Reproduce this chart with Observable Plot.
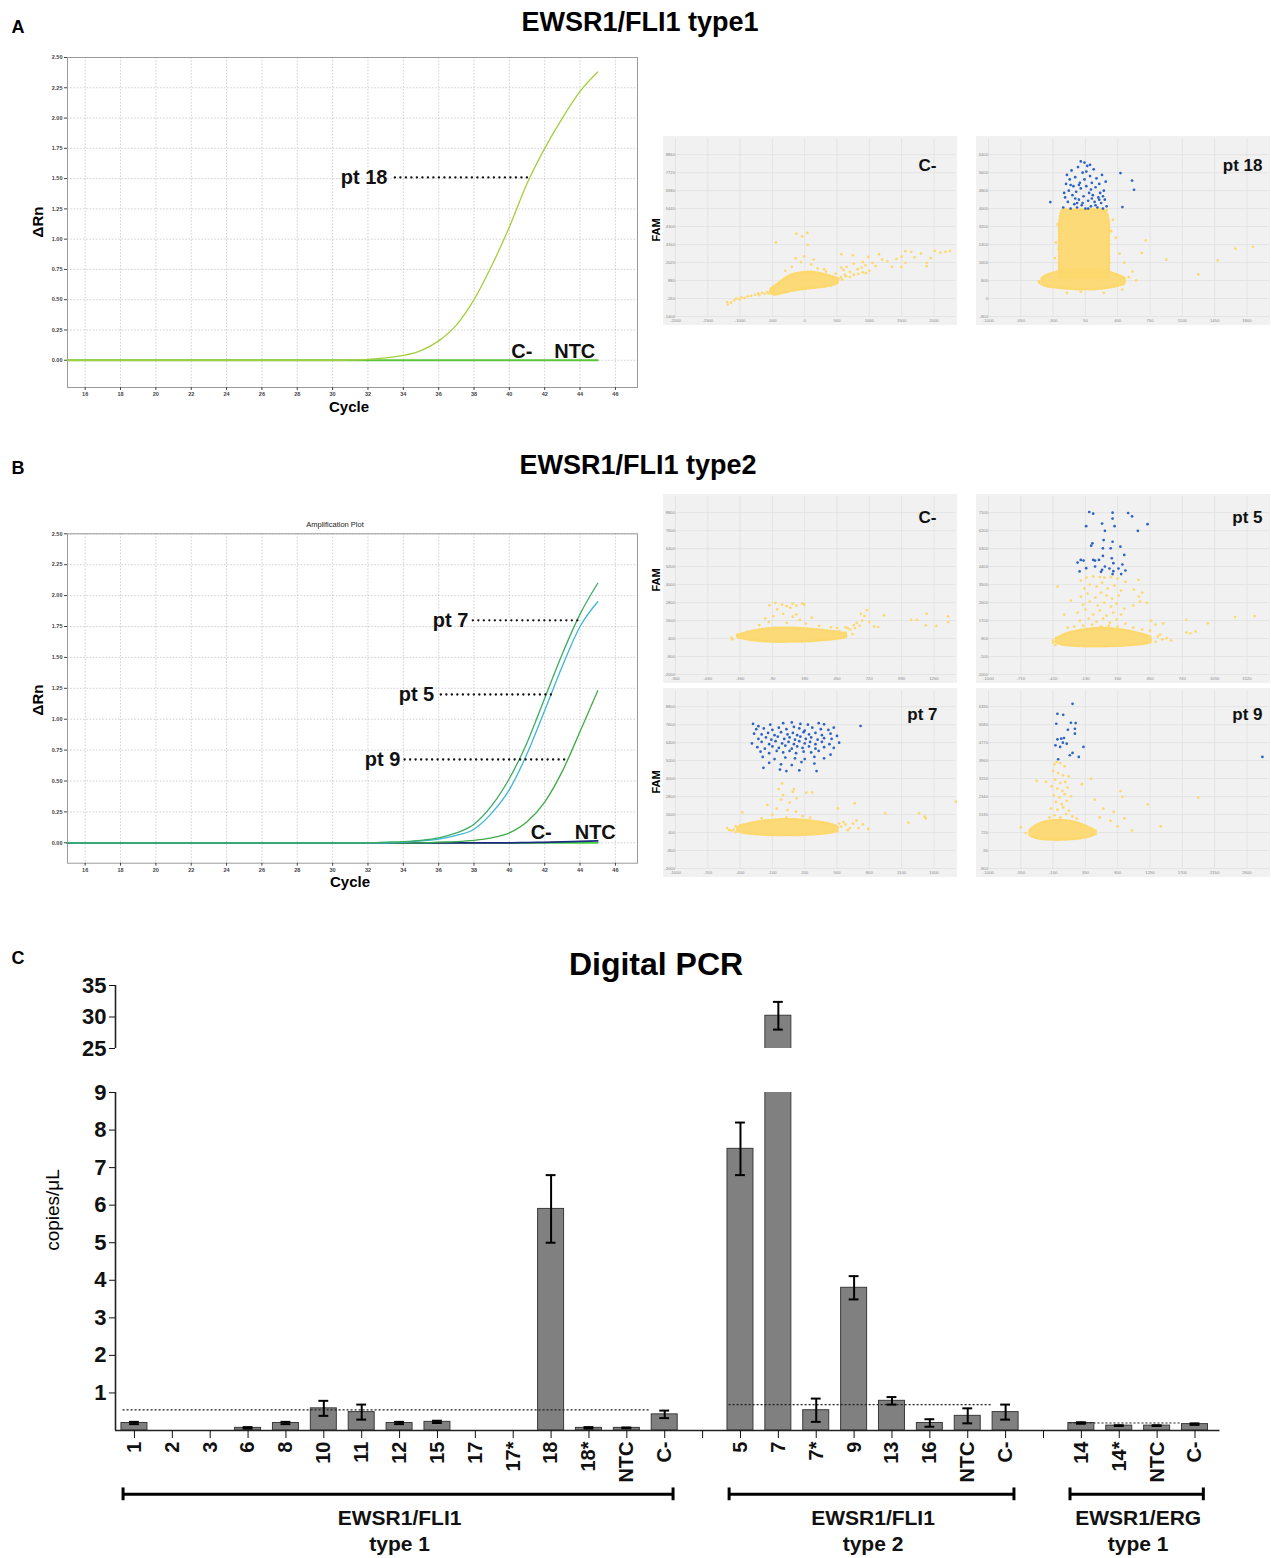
<!DOCTYPE html>
<html><head><meta charset="utf-8">
<script src="https://cdn.jsdelivr.net/npm/d3@7"></script>
<script src="https://cdn.jsdelivr.net/npm/@observablehq/plot@0.6"></script>
<style>
html,body{margin:0;padding:0;background:#fff;}
#page{position:relative;width:1271px;height:1558px;overflow:hidden;font-family:"Liberation Sans",Arial,sans-serif;color:#000;background:#fff;}
.t{position:absolute;white-space:pre;line-height:1;}
</style></head><body><div id="page"></div>
<script>
// ---------------- DATA ----------------
// Amplification plots
const ampCycleTicks = [16,18,20,22,24,26,28,30,32,34,36,38,40,42,44,46];
const ampRnTicks = [0,0.25,0.5,0.75,1.0,1.25,1.5,1.75,2.0,2.25,2.5];
const baseCycles = [15,45];
const baseRn = [0,0];
const pt18Cycle = [15,30,31,32,33,34,35,36,37,38,39,40,41,42,43,44,45];
const pt18Rn    = [0,0,0.002,0.008,0.02,0.04,0.08,0.16,0.29,0.5,0.78,1.1,1.46,1.75,2.0,2.22,2.38];
const pt7Cycle = [15,32,33,34,35,36,37,38,39,40,41,42,43,44,45];
const pt7Rn    = [0,0,0.005,0.01,0.02,0.04,0.08,0.15,0.3,0.52,0.81,1.17,1.53,1.85,2.1];
const pt5Cycle = [15,33,34,35,36,37,38,39,40,41,42,43,44,45];
const pt5Rn    = [0,0,0.005,0.015,0.03,0.06,0.11,0.24,0.43,0.72,1.07,1.43,1.75,1.95];
const pt9Cycle = [15,35,36,37,38,39,40,41,42,43,44,45];
const pt9Rn    = [0,0,0.005,0.01,0.02,0.04,0.08,0.17,0.33,0.58,0.9,1.23];
const negCycle = [15,40,41,42,43,44,45];
const negRn    = [0,0,0.002,0.004,0.007,0.011,0.015];
// annotations [text, cycle, Rn]
const ampALabels = [["pt 18",33.1,1.51]];
const ampAGuides = [[33.55,41.07,1.51]];
const ampAControls = [["C-",40.7,0.07],["NTC",43.7,0.07]];
const ampBLabels = [["pt 7",37.68,1.80],["pt 5",35.75,1.20],["pt 9",33.83,0.674]];
const ampBGuides = [[37.96,43.9,1.80],[36.15,42.6,1.20],[34.1,43.33,0.674]];
const ampBControls = [["C-",41.8,0.08],["NTC",44.86,0.08]];

// Droplet scatter plots: ticks, dense cores [x, low, high], single droplets [x, y]
const sAcX = [-2000,-1500,-1000,-500,0,500,1000,1500,2000];
const sAcY = [-1400,-260,880,2020,3160,4300,5440,6580,7720,8860];
const sAcCore = [[-520,80,330],[-470,-40,480],[-380,20,750],[-280,120,1050],[-180,210,1250],[-60,290,1360],[80,360,1400],[220,420,1340],[360,500,1200],[460,600,1080],[520,720,950]];
const sAcYellow = [[-1200,-480],[-1190,-640],[-1140,-520],[-1090,-380],[-1060,-260],[-1010,-300],[-980,-180],[-930,-230],[-880,-120],[-830,-90],[-770,-20],[-720,60],[-700,-40],[-660,100],[-620,40],[-580,150],[-560,60],[-530,200],[-510,120],[-490,260],
 [-445,3300],[-130,3860],[-40,3680],[40,3900],[45,3150],[-10,2420],[-140,2290],[140,2210],[-60,2050],[100,1900],[-200,1750],[200,1650],[300,1600],[-300,1500],[330,1450],
 [450,1050],[480,1320],[520,1000],[560,1100],[580,950],[600,1550],[620,1250],[640,1150],[650,1740],[700,1420],[700,1100],[760,1250],[760,1950],[820,1600],[830,1300],[880,1700],[900,1400],[900,2050],[940,1850],[950,1350],[987,2380],[1000,1500],[1050,2000],[1100,1800],[1150,2550],[1200,2200],[1280,2100],[1350,1750],[1420,2250],[1500,1745],[1500,2400],[1560,2000],[1560,2740],[1650,2700],[1700,2350],[1800,2600],[1890,2000],[1890,1790],[1950,2300],[2010,2760],[2100,2650],[2180,2700],[2250,2760],[566,2550],[746,2480],[566,1700]];
const sAcBlue = [];

const sAptX = [-1000,-650,-300,50,400,750,1100,1450,1800];
const sAptY = [-800,0,800,1600,2400,3200,4000,4800,5600,6400];
const sAptCore = [[-420,620,880],[-350,520,1050],[-200,440,1220],[-100,410,1270],[0,390,1300],[100,390,1300],[200,410,1270],[300,460,1180],[400,540,1040],[480,640,900]];
const sAptColumn = [[-230,900,3200],[-210,900,3800],[-150,900,3950],[0,900,3930],[150,900,3960],[270,900,3870],[310,900,3300]];
const sAptYellow = [[704,2590],[662,2030],[928,1730],[1485,1700],[1675,2220],[1865,2300],[1274,1070],[450,400],[-456,780],[520,950],[560,1200],[470,1600],[420,2000],[380,2700],[350,3500],[330,3000],[-250,3300],[-270,2500],[-280,1800],[430,800],[600,800],[-450,700],[-400,900],[-350,550],[250,250],[0,300],[-150,250],
 [-230,1500],[-240,2200],[-220,2900],[-210,3600],[310,1600],[300,2300],[320,3000],[290,3700],[-200,3950],[280,3950],[0,3980],[150,3950],[-100,3960]];
const sAptBlue = [[-190,4050],[-170,4500],[-160,5100],[-150,5500],[-140,4300],[-130,4800],[-120,5300],[-110,4000],[-100,5700],[-90,4600],[-80,5000],[-70,4200],[-60,5400],[-50,4750],[-40,4050],[-30,5850],[-20,4400],[-10,5150],[0,4900],[10,4150],[20,5600],[30,4550],[40,5300],[50,4000],[60,5000],[70,5900],[80,4350],[90,4700],[100,5450],[110,4100],[120,5150],[130,4600],[140,5750],[150,4300],[160,4950],[170,5350],[180,4050],[190,4500],[200,5100],[210,4700],[220,4250],[230,5500],[240,4000],[250,4800],[260,4400],[270,5200],[280,4100],[-180,4700],[-60,4450],[20,4250],[110,4850],[200,4400],[-20,5050],[60,5650],[-110,5050],[160,4150],[80,4000],[-40,4250],[240,4550],[120,4450],[0,6100],[40,6050],[100,5950],[-330,4290],[430,5580],[556,5250],[577,4840],[451,4070]];

const sBcX = [-900,-630,-360,-90,180,450,720,990,1260];
const sBcY = [-2000,-800,400,1600,2800,4000,5200,6400,7600,8800];
const sBcCore = [[-380,440,620],[-330,380,720],[-280,290,830],[-200,220,960],[-100,170,1060],[0,160,1090],[100,170,1080],[200,190,1030],[300,240,960],[400,310,870],[480,390,780],[530,480,680]];
const sBcYellow = [[-430,450],[-425,350],[-360,520],[-350,700],[-300,850],
 [-115,2620],[-65,2780],[-10,2670],[30,2560],[80,2720],[110,2600],[160,2740],[175,2670],[-50,2340],[60,2450],[110,2010],[0,2050],[80,1860],[240,1790],[140,1640],[-80,1900],[-150,1750],[30,1450],[190,1400],[-120,1500],[300,1250],[-200,1300],
 [520,800],[560,1000],[600,1100],[615,1450],[640,1240],[660,1600],[680,1900],[700,2300],[650,2050],[720,1500],[760,1200],[843,1950],[794,1170],[1070,1640],[1118,1640],[1200,2050],[1193,1280],[1281,1240],[1379,1880],[1379,1500],[520,1150],[580,700],[450,1100],[400,1150],[540,1100],[590,1300],[470,900]];
const sBcBlue = [];

const sB5X = [-1000,-710,-420,-130,160,450,740,1030,1320];
const sB5Y = [-1000,-100,800,1700,2600,3500,4400,5300,6200,7100];
const sB5Core = [[-390,580,800],[-350,500,900],[-300,450,1030],[-200,410,1170],[-100,390,1260],[0,390,1310],[100,400,1290],[200,420,1220],[300,460,1120],[400,520,980],[460,600,860]];
const sB5Yellow = [[-170,3700],[-120,3850],[-60,3900],[0,3880],[40,3850],[100,3870],[160,3800],[230,3640],[-140,3300],[-90,3500],[-30,3400],[20,3600],[70,3300],[130,3450],[190,3200],[-170,2900],[-110,3050],[-40,2850],[10,3100],[60,2950],[110,2800],[170,2950],[-150,2500],[-90,2650],[-20,2450],[40,2600],[100,2400],[150,2550],[220,2300],[-200,2100],[-130,2250],[-60,2000],[0,2200],[60,1950],[120,2100],[190,2000],[-180,1700],[-100,1800],[-30,1650],[30,1800],[90,1600],[150,1750],[230,1550],[-230,1400],[-150,1450],[-70,1500],[10,1400],[80,1450],[160,1400],[300,1350],[-290,1350],[350,2900],[300,2450],[360,2650],[-260,2700],
 [568,1560],[777,1730],[969,1560],[777,1100],[812,1060],[860,1150],[1214,1875],[1388,1925],[348,3740],[306,3250],[380,3100],[420,2600],[460,1700],[500,1500],[-380,3400],[-320,2000],[-420,600],
 [520,900],[560,760],[600,820],[640,700],[500,640],[540,1000],[-420,700],[-400,480],[450,1200],[380,1250]];
const sB5Blue = [[-95,7135],[-60,7052],[114,7102],[254,7085],[289,6920],[20,6556],[114,6804],[-123,6424],[45,6192],[132,6424],[341,6192],[428,6523],[-67,5564],[-78,5448],[34,5729],[114,5646],[184,5398],[27,5315],[97,5315],[219,4985],[-200,4604],[-172,4737],[-147,4703],[-60,4737],[-43,4703],[-8,4737],[27,4935],[107,4819],[121,4571],[202,4505],[-182,4158],[-123,4323],[-43,4406],[10,4141],[45,4406],[86,4307],[121,4174],[167,4307],[191,4025],[229,4207],[20,4240],[114,4025]];

const sB7X = [-1000,-700,-400,-100,200,500,800,1100,1400];
const sB7Y = [-2000,-800,400,1600,2800,4000,5200,6400,7600,8800];
const sB7Core = [[-420,480,700],[-380,380,850],[-300,290,1000],[-200,240,1130],[-100,210,1200],[0,200,1250],[100,200,1250],[200,220,1200],[300,260,1120],[400,320,1010],[470,400,880],[510,480,760]];
const sB7Yellow = [[-520,700],[-480,520],[-440,430],[-400,880],[-380,1750],[700,700],[740,950],[790,640],[650,1000],[680,1200],[560,1100],[947,1680],[1163,1060],[1261,1680],[1315,1460],[1325,1350],[1604,2460],[665,2350],[510,2020],[-10,3680],[90,3130],[125,2690],[215,3060],[270,3080],[-147,2240],[0,2900],[60,2400],[-60,2000],[-20,2600],[40,1900],[120,1800],[-100,1600],[180,1500],[30,1400],[-200,1350],[250,1400],[100,3300],[-40,3300],
 [540,800],[580,950],[620,700],[600,560],[520,1000],[-460,600],[-500,560],[-440,820]];
const sB7Blue = [[-280,7650],[-230,7500],[-120,7600],[0,7700],[80,7750],[160,7650],[230,7600],[330,7700],[380,7620],
 [-250,7300],[-180,7350],[-100,7250],[-40,7400],[30,7300],[100,7450],[150,7350],[200,7200],[270,7400],[350,7300],[420,7250],[470,7400],
 [-270,7000],[-200,6950],[-140,7050],[-80,6900],[-20,7100],[40,6950],[90,7050],[130,6900],[190,7100],[240,6950],[300,7050],[360,6900],[440,7000],[500,6850],
 [-230,6650],[-160,6750],[-110,6600],[-50,6800],[10,6650],[60,6750],[110,6600],[160,6800],[210,6650],[260,6750],[320,6600],[380,6700],[450,6650],
 [-290,6350],[-200,6450],[-130,6300],[-70,6500],[-10,6350],[50,6450],[100,6300],[150,6500],[200,6350],[250,6450],[300,6300],[360,6450],[430,6300],[520,6400],
 [-240,6100],[-170,6000],[-100,6150],[-40,6050],[20,6200],[80,6000],[130,6150],[180,6050],[240,6150],[300,6000],[380,6100],[470,6050],
 [-210,5800],[-130,5700],[-60,5850],[0,5750],[60,5850],[120,5700],[190,5800],[260,5750],[330,5850],[440,5600],
 [-190,5450],[-80,5300],[20,5400],[110,5350],[200,5300],[290,5450],[380,5350],
 [-130,5050],[-20,4950],[80,4900],[170,5100],[290,5000],
 [-183,4720],[-30,4600],[30,4500],[150,4550],[310,4500],[719,7510]];

const sB9X = [-1000,-550,-100,350,800,1250,1700,2150,2600];
const sB9Y = [-900,-90,720,1530,2340,3150,3960,4770,5580,6390];
const sB9Core = [[-420,600,800],[-400,540,870],[-320,450,1050],[-220,400,1180],[-100,380,1250],[0,380,1260],[100,390,1240],[200,410,1180],[300,450,1080],[400,520,940],[470,590,830],[500,640,780]];
const sB9Yellow = [[-80,3800],[-50,3900],[0,3850],[60,3700],[-100,3500],[-30,3400],[40,3300],[120,3250],[-70,3100],[0,2950],[70,3000],[-120,2800],[-40,2700],[30,2600],[100,2750],[-90,2400],[-10,2300],[60,2450],[150,2350],[-60,2100],[20,2000],[90,2150],[-130,1800],[-40,1750],[40,1850],[120,1700],[-80,1500],[0,1400],[80,1550],[170,1450],[-150,1400],[230,1350],[-200,3000],
 [892,1360],[746,1650],[1000,810],[838,2590],[865,2330],[1217,1990],[1922,2290],[300,2900],[430,3150],[480,2200],[600,1800],[700,1250],[800,1000],[550,1400],[1400,1000],[-480,700],[-550,950],[-330,3050]];
const sB9Blue = [[171,6517],[-40,6069],[41,6024],[-56,5620],[149,5665],[214,5650],[106,5351],[204,5396],[204,5172],[-40,4918],[14,4948],[52,4978],[90,4724],[-67,4649],[-2,4575],[36,4769],[-29,4022],[133,4201],[171,4306],[258,4126],[323,4575],[2816,4126]];

// Digital PCR
const g1Samples = ["1","2","3","6","8","10","11","12","15","17","17*","18","18*","NTC","C-"];
const g1Copies  = [0.20,0,0,0.07,0.20,0.59,0.49,0.20,0.23,0,0,5.90,0.07,0.07,0.43];
const g1Err     = [0.03,0,0,0.02,0.03,0.20,0.20,0.03,0.03,0,0,0.90,0.02,0.01,0.10];
const g2Samples = ["5","7","7*","9","13","16","NTC","C-"];
const g2Copies  = [7.50,30.2,0.54,3.80,0.79,0.20,0.39,0.49];
const g2Err     = [0.70,2.2,0.31,0.31,0.10,0.10,0.20,0.20];
const g3Samples = ["14","14*","NTC","C-"];
const g3Copies  = [0.20,0.13,0.13,0.17];
const g3Err     = [0.02,0.01,0.01,0.02];
const groupNames = ["EWSR1/FLI1\ntype 1","EWSR1/FLI1\ntype 2","EWSR1/ERG\ntype 1"];
const groupCutoffs = [0.55,0.69,0.20];
const lowTicks = [1,2,3,4,5,6,7,8,9];
const highTicks = [25,30,35];

// ---------------- DRAWING ----------------
const FONT = '"Liberation Sans", Arial, sans-serif';
const page = document.getElementById("page");
function place(node, left, top){ node.style.position="absolute"; node.style.left=left+"px"; node.style.top=top+"px"; page.appendChild(node); return node; }
function txtC(s, cx, cy, css, rot){ const d=document.createElement("div"); d.className="t"; d.textContent=s; d.style.cssText += css;
  d.style.transform = "translate(-50%,-50%)" + (rot ? " rotate("+rot+"deg)" : ""); return place(d, cx, cy); }

// Panel letters and titles
txtC("A", 18, 27, "font-weight:bold;font-size:18px;");
txtC("B", 18, 468, "font-weight:bold;font-size:18px;");
txtC("C", 18, 958, "font-weight:bold;font-size:18px;");
txtC("EWSR1/FLI1 type1", 640, 22, "font-weight:bold;font-size:27px;");
txtC("EWSR1/FLI1 type2", 638, 465, "font-weight:bold;font-size:27px;");
txtC("Digital PCR", 656, 964, "font-weight:bold;font-size:32px;");

// Amplification plots
function amp(o){
  const grid = {stroke:"#c6c6c6", strokeWidth:0.8, strokeDasharray:"1.6,1.6"};
  return Plot.plot({
    width:650, height:o.h, marginLeft:67, marginRight:13, marginTop:o.mt, marginBottom:o.mb,
    style:{background:"transparent", fontFamily:FONT},
    x:{domain:[15,47.25]}, y:{domain:[o.yMin,2.5]},
    marks:[
      Plot.ruleX(ampCycleTicks, grid),
      Plot.ruleY(ampRnTicks, grid),
      Plot.frame({stroke:"#9a9a9a", strokeWidth:1}),
      Plot.axisX(ampCycleTicks, {tickSize:3, tickPadding:2, fontSize:5.5, fontWeight:"bold", color:"#444", label:null}),
      Plot.axisY(ampRnTicks, {tickSize:3, tickPadding:2, fontSize:5.5, fontWeight:"bold", color:"#444", label:null, tickFormat:d=>d.toFixed(2)}),
      ...o.series.map(s=>Plot.line(d3.zip(s.c, s.v), {x:d=>d[0], y:d=>d[1], stroke:s.color, strokeWidth:s.w||1.3, curve:"monotone-x"})),
      Plot.ruleY(o.guides, {x1:d=>d[0], x2:d=>d[1], y:d=>d[2], stroke:"#111", strokeWidth:2.3, strokeDasharray:"0.1,5.4", strokeLinecap:"round"}),
      Plot.text(o.labels, {x:d=>d[1], y:d=>d[2], text:d=>d[0], textAnchor:"end", fontSize:20, fontWeight:"bold", fill:"#111"}),
      Plot.text(o.controls, {x:d=>d[1], y:d=>d[2], text:d=>d[0], textAnchor:"middle", fontSize:20, fontWeight:"bold", fill:"#111"})
    ]
  });
}
place(amp({h:380, mt:17, mb:33, yMin:-0.225,
  series:[{c:baseCycles, v:baseRn, color:"#5cc43a", w:1.8},{c:pt18Cycle, v:pt18Rn, color:"#a3cf3e"}],
  guides:ampAGuides, labels:ampALabels, controls:ampAControls}), 0, 40);
place(amp({h:400, mt:33.3, mb:37.3, yMin:-0.165,
  series:[{c:baseCycles, v:baseRn, color:"#3fd13f", w:1.8},{c:negCycle, v:negRn, color:"#1c2a80", w:1.8},
          {c:pt9Cycle, v:pt9Rn, color:"#3eab45"},{c:pt5Cycle, v:pt5Rn, color:"#3cb6d6"},{c:pt7Cycle, v:pt7Rn, color:"#3aac62"}],
  guides:ampBGuides, labels:ampBLabels, controls:ampBControls}), 0, 500);
txtC("Cycle", 349, 406, "font-weight:bold;font-size:15px;");
txtC("Cycle", 350, 881, "font-weight:bold;font-size:15px;");
txtC("\u0394Rn", 37, 222, "font-weight:bold;font-size:15px;", -90);
txtC("\u0394Rn", 37, 700, "font-weight:bold;font-size:15px;", -90);
txtC("Amplification Plot", 335, 525, "font-size:7.5px;color:#222;");

// Droplet scatter plots
const YEL = "#fdd86d", BLU = "#2c62c2";
function scatter(o){
  const xs = o.xt[1]-o.xt[0], ys = o.yt[1]-o.yt[0];
  const grid = {stroke:"#e1e1e1", strokeWidth:0.8};
  return Plot.plot({
    width:294, height:189, marginLeft:12, marginRight:1, marginTop:2, marginBottom:9,
    style:{background:"#f1f1f1", fontFamily:FONT},
    x:{domain:[o.xt[0], o.xt[8]+0.7*xs]}, y:{domain:[o.yt[0], o.yt[9]+0.9*ys]},
    marks:[
      Plot.ruleX(o.xt, grid),
      Plot.ruleY(o.yt, grid),
      Plot.axisX(o.xt, {tickSize:0, tickPadding:3, fontSize:4.2, color:"#8a8a8a", label:null, tickFormat:d=>String(d)}),
      Plot.axisY(o.yt, {tickSize:0, tickPadding:0.5, fontSize:4.2, color:"#8a8a8a", label:null, tickFormat:d=>String(d)}),
      ...o.cores.map(c=>Plot.areaY(c, {x:d=>d[0], y1:d=>d[1], y2:d=>d[2], fill:YEL, fillOpacity:0.92, stroke:YEL, strokeWidth:2.6, strokeDasharray:"1,2.2", strokeLinecap:"round", curve:"natural"})),
      Plot.dot(o.yellow, {x:d=>d[0], y:d=>d[1], r:1.35, fill:YEL}),
      Plot.dot(o.blue, {x:d=>d[0], y:d=>d[1], r:1.35, fill:BLU}),
      Plot.text([o.name], {frameAnchor:"top-right", dx:o.dx, dy:o.dy, text:d=>d, textAnchor:"end", fontSize:17, fontWeight:"bold", fill:"#111"})
    ]
  });
}
place(scatter({xt:sAcX, yt:sAcY, cores:[sAcCore], yellow:sAcYellow, blue:sAcBlue, name:"C-", dx:-20, dy:20}), 663, 136);
place(scatter({xt:sAptX, yt:sAptY, cores:[sAptCore, sAptColumn], yellow:sAptYellow, blue:sAptBlue, name:"pt 18", dx:-7, dy:20}), 976, 136);
place(scatter({xt:sBcX, yt:sBcY, cores:[sBcCore], yellow:sBcYellow, blue:sBcBlue, name:"C-", dx:-20, dy:14}), 663, 494);
place(scatter({xt:sB5X, yt:sB5Y, cores:[sB5Core], yellow:sB5Yellow, blue:sB5Blue, name:"pt 5", dx:-7, dy:14}), 976, 494);
place(scatter({xt:sB7X, yt:sB7Y, cores:[sB7Core], yellow:sB7Yellow, blue:sB7Blue, name:"pt 7", dx:-19, dy:17}), 663, 688);
place(scatter({xt:sB9X, yt:sB9Y, cores:[sB9Core], yellow:sB9Yellow, blue:sB9Blue, name:"pt 9", dx:-7, dy:17}), 976, 688);
txtC("FAM", 656, 230, "font-weight:bold;font-size:11px;", -90);
txtC("FAM", 656, 580, "font-weight:bold;font-size:11px;", -90);
txtC("FAM", 656, 782, "font-weight:bold;font-size:11px;", -90);

// Digital PCR bar chart (broken y axis: two stacked Plot panels)
const groups = [[g1Samples,g1Copies,g1Err],[g2Samples,g2Copies,g2Err],[g3Samples,g3Copies,g3Err]];
const rows = [], tickLabels = [], spans = [];
let slot = 0;
groups.forEach(([s,c,e], gi) => {
  const first = slot;
  s.forEach((name,i) => { rows.push({slot, name, v:c[i], e:e[i]}); tickLabels[slot] = name; slot++; });
  const last = slot-1;
  const ntc = first + s.indexOf("NTC");
  spans.push({first, last, ntc, name:groupNames[gi], cut:groupCutoffs[gi]});
  if (gi < groups.length-1) { tickLabels[slot] = ""; slot++; }
});
const slots = d3.range(slot);
const xDom = [-0.5, 28.66];
const HW = 0.343, CAP = 0.13;
const bars = rows.filter(d=>d.v>0);
const barStyle = {fill:"#808080", stroke:"#3a3a3a", strokeWidth:1, clip:true};
const errLow = bars.filter(d=>d.e>0 && d.v<=9);
const errHigh = bars.filter(d=>d.v>9);
const capsOf = arr => arr.flatMap(d=>[{slot:d.slot, y:d.v-d.e},{slot:d.slot, y:d.v+d.e}]);

const lower = Plot.plot({
  width:1271, height:478, marginLeft:115, marginRight:51.5, marginTop:12, marginBottom:128,
  style:{background:"transparent", fontFamily:FONT},
  x:{domain:xDom}, y:{domain:[0,9]},
  marks:[
    Plot.rectY(bars, {x1:d=>d.slot-HW, x2:d=>d.slot+HW, y1:0, y2:d=>Math.min(d.v,9.4), ...barStyle}),
    Plot.ruleY(spans, {x1:d=>d.first-0.3, x2:d=>d.ntc+0.62, y:"cut", stroke:"#222", strokeWidth:1.1, strokeDasharray:"2,2"}),
    Plot.ruleX(errLow, {x:"slot", y1:d=>d.v-d.e, y2:d=>d.v+d.e, stroke:"#000", strokeWidth:2}),
    Plot.ruleY(capsOf(errLow), {x1:d=>d.slot-CAP, x2:d=>d.slot+CAP, y:"y", stroke:"#000", strokeWidth:2}),
    Plot.ruleY([0], {stroke:"#222", strokeWidth:1.6}),
    Plot.ruleX([xDom[0]], {y1:0, y2:9, stroke:"#222", strokeWidth:1.6}),
    Plot.axisY(lowTicks, {tickSize:6, tickPadding:3, fontSize:22, fontWeight:"bold", color:"#111", label:null}),
    Plot.axisX(slots, {tickSize:8, tickPadding:3, tickRotate:-90, fontSize:20, fontWeight:"bold", color:"#111", label:null, tickFormat:i=>tickLabels[i]}),
    // group brackets and names
    Plot.ruleY(spans, {x1:d=>d.first-0.3, x2:d=>d.last+0.22, y:-1.7, stroke:"#000", strokeWidth:3}),
    Plot.ruleX(spans.flatMap(d=>[d.first-0.3, d.last+0.22]), {y1:-1.53, y2:-1.87, stroke:"#000", strokeWidth:3}),
    Plot.text(spans, {x:d=>(d.first+d.last)/2, y:-2.02, text:"name", lineAnchor:"top", lineHeight:1.25, fontSize:21, fontWeight:"bold", fill:"#111"})
  ]
});
place(lower, 0, 1080);

const upper = Plot.plot({
  width:1271, height:95, marginLeft:115, marginRight:51.5, marginTop:20, marginBottom:12,
  style:{background:"transparent", fontFamily:FONT},
  x:{domain:xDom, axis:null}, y:{domain:[25,35]},
  marks:[
    Plot.rectY(errHigh, {x1:d=>d.slot-HW, x2:d=>d.slot+HW, y1:24, y2:"v", ...barStyle}),
    Plot.ruleX(errHigh, {x:"slot", y1:d=>d.v-d.e, y2:d=>d.v+d.e, stroke:"#000", strokeWidth:2}),
    Plot.ruleY(capsOf(errHigh), {x1:d=>d.slot-CAP, x2:d=>d.slot+CAP, y:"y", stroke:"#000", strokeWidth:2}),
    Plot.ruleX([xDom[0]], {y1:25, y2:35, stroke:"#222", strokeWidth:1.6}),
    Plot.axisY(highTicks, {tickSize:6, tickPadding:3, fontSize:22, fontWeight:"bold", color:"#111", label:null})
  ]
});
place(upper, 0, 965);
txtC("copies/\u03bcL", 52, 1210, "font-size:19px;", -90);
</script></body></html>
